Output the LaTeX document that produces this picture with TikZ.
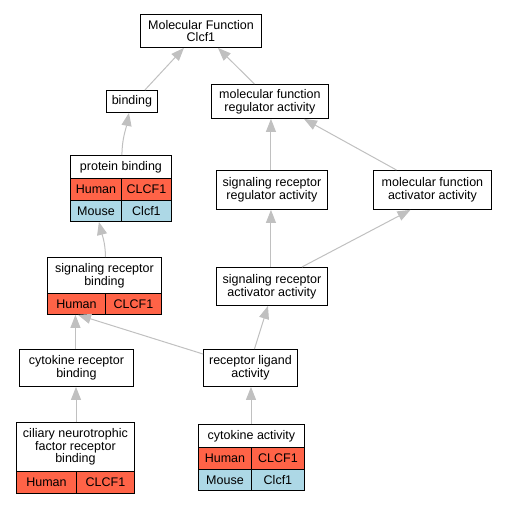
\documentclass[tikz,border=0pt]{standalone}
\usepackage{fontspec}
\setmainfont{Liberation Sans}
\usetikzlibrary{arrows.meta}
\definecolor{humred}{HTML}{FF6347}
\definecolor{mouseblue}{HTML}{ADD8E6}
\definecolor{edgegray}{HTML}{C0C0C0}
\begin{document}
\begin{tikzpicture}[x=1pt,y=-1pt,
  every node/.style={font=\fontsize{12.5}{12.8}\selectfont},
  box/.style={draw=black, line width=0.9pt, fill=white, anchor=north west, inner sep=0pt, align=center},
  hcell/.style={box, fill=humred},
  mcell/.style={box, fill=mouseblue},
  edge/.style={draw=edgegray, line width=1pt, -{Triangle[length=13pt,width=10pt]}}]
\useasboundingbox (0,0) rectangle (505,504);
% nodes
\node[box, minimum width=121, minimum height=33] (mf) at (140,14) {Molecular Function\\Clcf1};
\node[box, minimum width=51, minimum height=22] (bind) at (106,90) {binding};
\node[box, minimum width=117, minimum height=34] (mfra) at (211,84) {molecular function\\regulator activity};
% protein binding
\node[box, minimum width=101, minimum height=23] (pb) at (70,155) {protein binding};
\node[hcell, minimum width=51, minimum height=22] (pbh1) at (70,178) {Human};
\node[hcell, minimum width=50, minimum height=22] (pbh2) at (121,178) {CLCF1};
\node[mcell, minimum width=51, minimum height=21] (pbm1) at (70,200) {Mouse};
\node[mcell, minimum width=50, minimum height=21] (pbm2) at (121,200) {Clcf1};
\node[box, minimum width=111, minimum height=39] (srra) at (216,170) {signaling receptor\\regulator activity};
\node[box, minimum width=118, minimum height=39] (mfaa) at (373,170) {molecular function\\activator activity};
% signaling receptor binding
\node[box, minimum width=114, minimum height=36] (srb) at (47,257) {signaling receptor\\binding};
\node[hcell, minimum width=58, minimum height=21] (srbh1) at (47,293) {Human};
\node[hcell, minimum width=56, minimum height=21] (srbh2) at (105,293) {CLCF1};
\node[box, minimum width=111, minimum height=38] (sraa) at (216,267) {signaling receptor\\activator activity};
\node[box, minimum width=114, minimum height=37] (crb) at (19,349) {cytokine receptor\\binding};
\node[box, minimum width=94, minimum height=37] (rla) at (203,349) {receptor ligand\\activity};
% ciliary
\node[box, minimum width=118, minimum height=49] (cnf) at (16,422) {ciliary neurotrophic\\factor receptor\\binding};
\node[hcell, minimum width=60, minimum height=22] (cnfh1) at (16,471) {Human};
\node[hcell, minimum width=58, minimum height=22] (cnfh2) at (76,471) {CLCF1};
% cytokine activity
\node[box, minimum width=106, minimum height=23] (ca) at (198,424) {cytokine activity};
\node[hcell, minimum width=53, minimum height=22] (cah1) at (198,447) {Human};
\node[hcell, minimum width=53, minimum height=22] (cah2) at (251,447) {CLCF1};
\node[mcell, minimum width=53, minimum height=21] (cam1) at (198,469) {Mouse};
\node[mcell, minimum width=53, minimum height=21] (cam2) at (251,469) {Clcf1};
% edges
\draw[edge] ([xshift=-13pt]bind.north east) -- ([xshift=-17pt]mf.south);
\draw[edge] ([xshift=-15.5pt]mfra.north) -- ([xshift=17pt]mf.south);
\draw[edge] ([xshift=1pt]pb.north) .. controls ([xshift=1pt,yshift=16pt]pb.north) and ([xshift=-6pt,yshift=-16pt]bind.south) .. ([xshift=-3pt]bind.south);
\draw[edge] ([xshift=-1pt]srra.north) -- ([xshift=-1pt]srra.north |- mfra.south);
\draw[edge] ([xshift=-36pt]mfaa.north) -- ([xshift=34pt]mfra.south);
\draw[edge] ([xshift=1pt]srb.north) .. controls ([xshift=1pt,yshift=14pt]srb.north) and ([xshift=-20pt,yshift=-12pt]pbm1.south east) .. ([xshift=-23pt]pbm1.south east);
\draw[edge] ([xshift=-1pt]sraa.north) -- ([xshift=-1pt]sraa.north |- srra.south);
\draw[edge] ([xshift=-26pt]sraa.north east) -- ([xshift=-22pt]mfaa.south);
\draw[edge] ([xshift=-1pt]crb.north) -- ([xshift=-1pt]crb.north |- srbh1.south);
\draw[edge] ([yshift=-5pt]rla.north west) -- ([xshift=31pt]srbh1.south west);
\draw[edge] ([xshift=4pt]rla.north) -- ([xshift=-4pt]sraa.south);
\draw[edge] (cnfh2.north west |- cnf.north) -- (cnfh2.north west |- crb.south);
\draw[edge] (cah2.north west |- ca.north) -- (cah2.north west |- rla.south);
\end{tikzpicture}
\end{document}
